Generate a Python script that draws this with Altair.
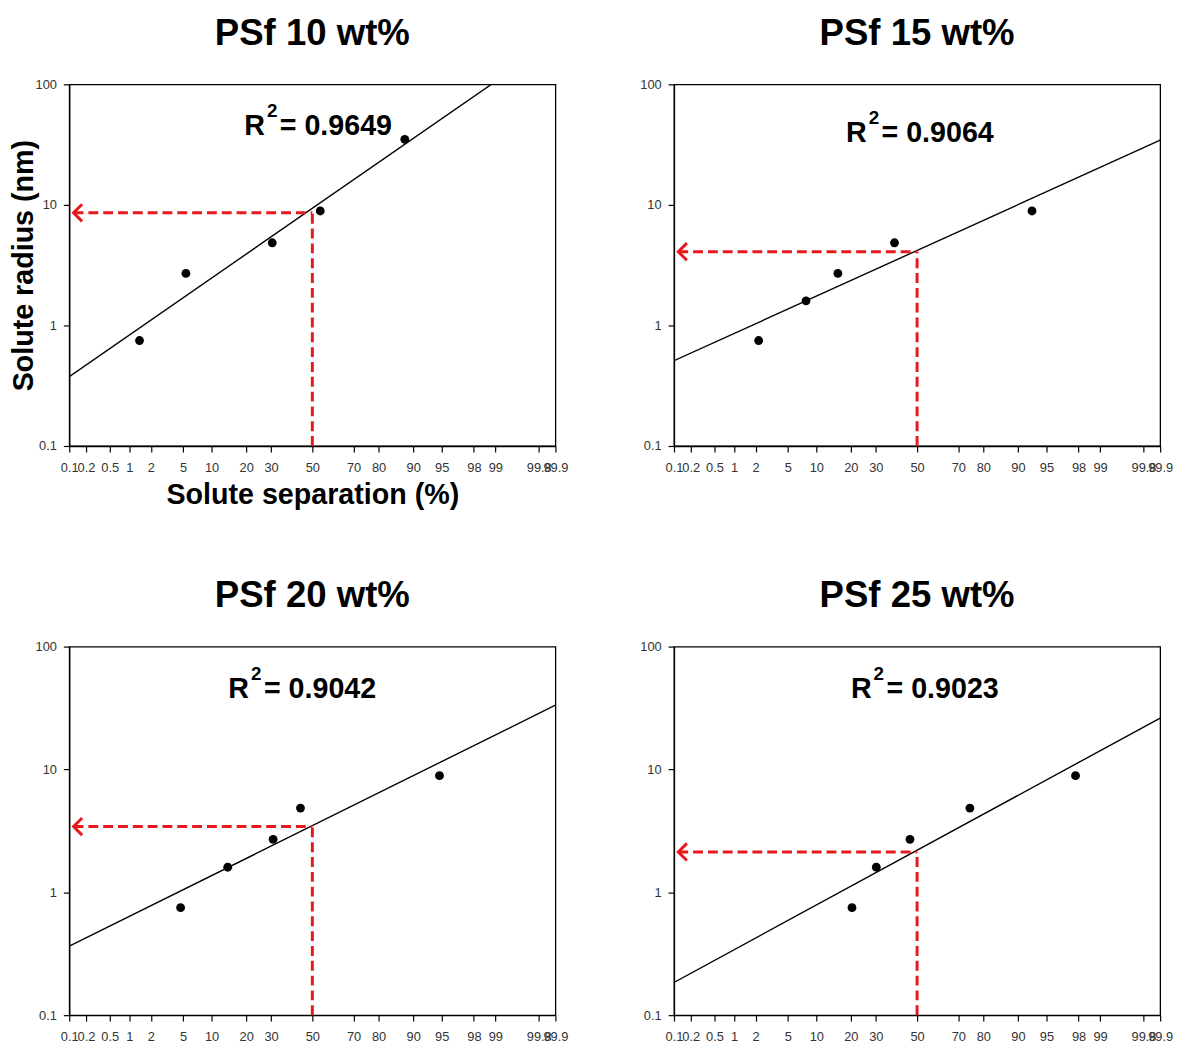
import altair as alt
import pandas as pd
from statistics import NormalDist

# ---------------- data ----------------
panel_titles = ["PSf 10 wt%", "PSf 15 wt%", "PSf 20 wt%", "PSf 25 wt%"]
r2_values = ["0.9649", "0.9064", "0.9042", "0.9023"]

sep_10 = [1.4, 5.4, 30.5, 54.0, 88.0]
rad_10 = [0.75, 2.7, 4.85, 8.9, 35.0]
sep_15 = [2.2, 7.9, 15.7, 38.7, 92.8]
rad_15 = [0.75, 1.6, 2.7, 4.85, 8.9]
sep_20 = [4.7, 14.1, 30.9, 44.0, 94.7]
rad_20 = [0.75, 1.6, 2.7, 4.85, 8.9]
sep_25 = [20.4, 30.2, 46.4, 74.9, 97.8]
rad_25 = [0.75, 1.6, 2.7, 4.85, 8.9]

mwco_radius = [8.6, 4.09, 3.43, 2.13]   # level of the red dashed arrows
mwco_sep = [50.0, 50.0, 50.0, 50.0]
arrow_tip_sep = [0.12, 0.12, 0.12, 0.12]

x_tick_pcts = [0.1, 0.2, 0.5, 1, 2, 5, 10, 20, 30, 50, 70, 80, 90, 95, 98, 99, 99.8, 99.9]
y_tick_vals = [0.1, 1, 10, 100]

# ---------------- styling ----------------
FONT = "Liberation Sans"
RED = "#e8191c"
W = 492
HEIGHTS = [366, 366, 373, 373]
R2_POS = [(177, 42), (174, 49), (161, 43), (179, 43)]

nd = NormalDist()
z_ticks = [nd.inv_cdf(p / 100.0) for p in x_tick_pcts]
zmin, zmax = z_ticks[0], z_ticks[-1]

seps = [sep_10, sep_15, sep_20, sep_25]
rads = [rad_10, rad_15, rad_20, rad_25]


def panel(i):
    first = i == 0
    H = HEIGHTS[i]
    xscale = alt.Scale(domain=[zmin, zmax], nice=False, zero=False)
    yscale = alt.Scale(type="log", domain=[0.1, 100], nice=False)
    xaxis = alt.Axis(
        values=z_ticks,
        labelExpr="format(round(cumulativeNormal(datum.value)*1000)/10, '~g')",
        labelOverlap=False,
        labelFlush=False,
        grid=False,
        title="Solute separation (%)" if first else None,
        tickSize=6,
        labelPadding=10,
        titlePadding=6,
    )
    yaxis = alt.Axis(
        values=y_tick_vals,
        format="~g",
        labelOverlap=False,
        labelFlush=False,
        grid=False,
        title="Solute radius (nm)" if first else None,
        tickSize=6,
        labelPadding=7,
        titlePadding=-3,
    )

    def X(field):
        return alt.X(field, type="quantitative", scale=xscale, axis=xaxis)

    def Y(field):
        return alt.Y(field, type="quantitative", scale=yscale, axis=yaxis)

    df = pd.DataFrame({"sep": seps[i], "rad": rads[i]})
    base = alt.Chart(df).transform_calculate(
        z="quantileNormal(datum.sep / 100)",
        ly="log(datum.rad) / LN10",
    )

    fit = (
        base.transform_regression("z", "ly", extent=[zmin, zmax])
        .transform_calculate(yfit="pow(10, datum.ly)")
        .mark_line(color="black", strokeWidth=1.4, clip=True)
        .encode(x=X("z"), y=Y("yfit"))
    )

    pts = base.mark_circle(size=80, color="black", opacity=1).encode(
        x=X("z"), y=Y("rad")
    )

    adf = pd.DataFrame(
        {
            "tip": [arrow_tip_sep[i]],
            "mid": [mwco_sep[i]],
            "r": [mwco_radius[i]],
            "floor": [y_tick_vals[0]],
        }
    )
    abase = alt.Chart(adf).transform_calculate(
        zt="quantileNormal(datum.tip / 100)",
        zm="quantileNormal(datum.mid / 100)",
    )
    vrule = abase.mark_rule(color=RED, strokeWidth=3, strokeDash=[10, 5]).encode(
        x=X("zm"), y=Y("floor"), y2="r:Q"
    )
    hrule = abase.mark_rule(color=RED, strokeWidth=3, strokeDash=[10, 5]).encode(
        x=X("zt"), x2="zm:Q", y=Y("r")
    )
    head = abase.mark_point(
        shape="M1,-1L0,0L1,1",
        size=300,
        filled=False,
        stroke=RED,
        strokeWidth=3,
        opacity=1,
    ).encode(x=X("zt"), y=Y("r"))

    tx, ty = R2_POS[i]
    tdf = pd.DataFrame({"r2": ["= " + r2_values[i]]})
    fs = 29
    t_r = alt.Chart(tdf).mark_text(
        text="R", font=FONT, fontSize=fs, fontWeight="bold", align="left",
        baseline="middle", color="black",
    ).encode(x=alt.value(tx), y=alt.value(ty))
    t_sup = alt.Chart(tdf).mark_text(
        text="2", font=FONT, fontSize=19, fontWeight="bold", align="left",
        baseline="middle", color="black",
    ).encode(x=alt.value(tx + 23), y=alt.value(ty - 15))
    t_val = alt.Chart(tdf).mark_text(
        font=FONT, fontSize=fs, fontWeight="bold", align="left",
        baseline="middle", color="black",
    ).encode(x=alt.value(tx + 36), y=alt.value(ty), text="r2:N")

    return alt.layer(pts, fit, vrule, hrule, head, t_r, t_sup, t_val).properties(
        width=W,
        height=H,
        title=alt.TitleParams(
            panel_titles[i], anchor="middle", offset=26, font=FONT,
            fontSize=37, fontWeight="bold", color="black",
        ),
    )


chart = (
    alt.concat(panel(0), panel(1), panel(2), panel(3), columns=2,
               spacing={"row": 203, "column": 120}, bounds="flush")
    .properties(padding={"left": 0, "top": 0, "right": 0, "bottom": 0})
    .configure_view(stroke="black", strokeWidth=1.3)
    .configure_axis(
        domainColor="black",
        domainWidth=1.3,
        tickColor="black",
        tickWidth=1.2,
        labelColor="#333333",
        labelFont=FONT,
        labelFontSize=13,
        labelOverlap=False,
        titleFont=FONT,
        titleFontSize=29,
        titleFontWeight="bold",
        titleColor="black",
    )
)

chart.save("out.html", embed_options={"renderer": "svg", "actions": False})
